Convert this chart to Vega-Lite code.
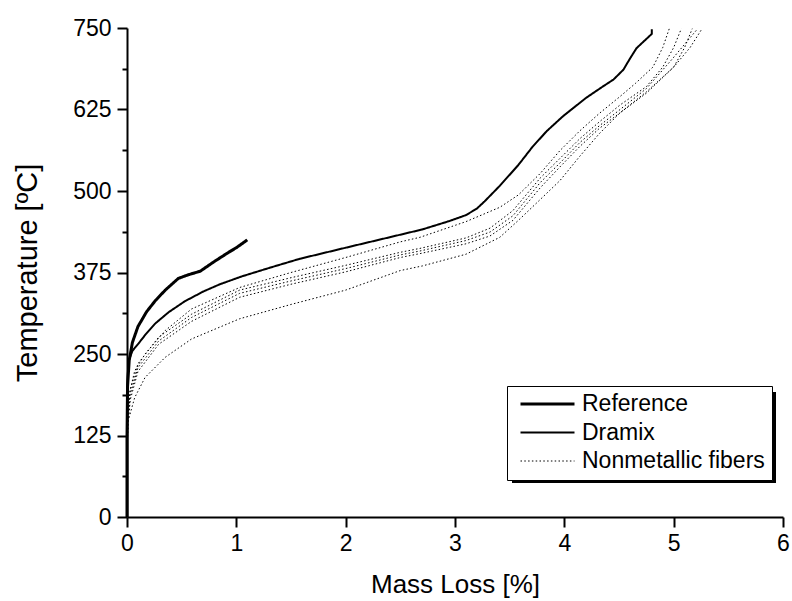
{
  "$schema": "https://vega.github.io/schema/vega-lite/v6.json",
  "width": 656,
  "height": 489,
  "autosize": {"type": "none"},
  "padding": {"left": 127, "top": 28, "right": 9, "bottom": 84},
  "background": "white",
  "config": {
    "view": {"stroke": null},
    "font": "Liberation Sans",
    "axis": {
      "domainColor": "black", "domainWidth": 2, "tickColor": "black", "tickWidth": 2,
      "labelColor": "black", "titleColor": "black", "labelFont": "Liberation Sans", "titleFont": "Liberation Sans",
      "labelFontSize": 23, "titleFontSize": 26, "titleFontWeight": "normal", "grid": false, "labelPadding": 5,
      "labelFlush": false, "labelOverlap": false
    },
    "legend": {
      "orient": "none", "legendX": 380, "legendY": 358, "strokeColor": "black", "fillColor": "white",
      "padding": 7, "labelFontSize": 23, "labelFont": "Liberation Sans", "labelColor": "black", "labelOffset": 6,
      "labelLimit": 400,
      "symbolType": "stroke", "symbolSize": 2916, "symbolStrokeColor": "black", "symbolOffset": 5,
      "clipHeight": 22, "rowPadding": 5.5
    }
  },
  "data": {"values": [
    {"s":"R","g":"Reference","x":0,"t":0},{"s":"R","g":"Reference","x":0,"t":120},{"s":"R","g":"Reference","x":0.005,"t":200},{"s":"R","g":"Reference","x":0.02,"t":240},{"s":"R","g":"Reference","x":0.05,"t":268},{"s":"R","g":"Reference","x":0.1,"t":292},{"s":"R","g":"Reference","x":0.18,"t":315},{"s":"R","g":"Reference","x":0.26,"t":332},{"s":"R","g":"Reference","x":0.35,"t":348},{"s":"R","g":"Reference","x":0.47,"t":366},{"s":"R","g":"Reference","x":0.57,"t":372},{"s":"R","g":"Reference","x":0.67,"t":377},{"s":"R","g":"Reference","x":0.8,"t":392},{"s":"R","g":"Reference","x":0.93,"t":406},{"s":"R","g":"Reference","x":1.0,"t":413},{"s":"R","g":"Reference","x":1.1,"t":425},
    {"s":"D","g":"Dramix","x":0,"t":0},{"s":"D","g":"Dramix","x":0,"t":120},{"s":"D","g":"Dramix","x":0.003,"t":200},{"s":"D","g":"Dramix","x":0.012,"t":238},{"s":"D","g":"Dramix","x":0.05,"t":255},{"s":"D","g":"Dramix","x":0.1,"t":265},{"s":"D","g":"Dramix","x":0.17,"t":280},{"s":"D","g":"Dramix","x":0.26,"t":297},{"s":"D","g":"Dramix","x":0.38,"t":314},{"s":"D","g":"Dramix","x":0.53,"t":331},{"s":"D","g":"Dramix","x":0.7,"t":346},{"s":"D","g":"Dramix","x":0.85,"t":357},{"s":"D","g":"Dramix","x":1.05,"t":369},{"s":"D","g":"Dramix","x":1.3,"t":382},{"s":"D","g":"Dramix","x":1.58,"t":396},{"s":"D","g":"Dramix","x":2.0,"t":413},{"s":"D","g":"Dramix","x":2.5,"t":433},{"s":"D","g":"Dramix","x":2.7,"t":441},{"s":"D","g":"Dramix","x":2.95,"t":454},{"s":"D","g":"Dramix","x":3.1,"t":463},{"s":"D","g":"Dramix","x":3.2,"t":473},{"s":"D","g":"Dramix","x":3.27,"t":484},{"s":"D","g":"Dramix","x":3.41,"t":508},{"s":"D","g":"Dramix","x":3.58,"t":540},{"s":"D","g":"Dramix","x":3.71,"t":568},{"s":"D","g":"Dramix","x":3.84,"t":592},{"s":"D","g":"Dramix","x":3.99,"t":615},{"s":"D","g":"Dramix","x":4.2,"t":643},{"s":"D","g":"Dramix","x":4.35,"t":660},{"s":"D","g":"Dramix","x":4.45,"t":671},{"s":"D","g":"Dramix","x":4.54,"t":686},{"s":"D","g":"Dramix","x":4.6,"t":703},{"s":"D","g":"Dramix","x":4.66,"t":719},{"s":"D","g":"Dramix","x":4.8,"t":741},{"s":"D","g":"Dramix","x":4.8,"t":748},
    {"s":"N1","g":"Nonmetallic fibers","x":0,"t":110},{"s":"N1","g":"Nonmetallic fibers","x":0.005,"t":160},{"s":"N1","g":"Nonmetallic fibers","x":0.027,"t":193},{"s":"N1","g":"Nonmetallic fibers","x":0.07,"t":224},{"s":"N1","g":"Nonmetallic fibers","x":0.165,"t":250},{"s":"N1","g":"Nonmetallic fibers","x":0.35,"t":286},{"s":"N1","g":"Nonmetallic fibers","x":0.59,"t":319},{"s":"N1","g":"Nonmetallic fibers","x":1.03,"t":352},{"s":"N1","g":"Nonmetallic fibers","x":1.5,"t":375},{"s":"N1","g":"Nonmetallic fibers","x":2.0,"t":398},{"s":"N1","g":"Nonmetallic fibers","x":2.5,"t":422},{"s":"N1","g":"Nonmetallic fibers","x":2.68,"t":429},{"s":"N1","g":"Nonmetallic fibers","x":3.1,"t":453},{"s":"N1","g":"Nonmetallic fibers","x":3.41,"t":475},{"s":"N1","g":"Nonmetallic fibers","x":3.58,"t":494},{"s":"N1","g":"Nonmetallic fibers","x":3.78,"t":527},{"s":"N1","g":"Nonmetallic fibers","x":3.96,"t":562},{"s":"N1","g":"Nonmetallic fibers","x":4.14,"t":592},{"s":"N1","g":"Nonmetallic fibers","x":4.32,"t":619},{"s":"N1","g":"Nonmetallic fibers","x":4.51,"t":645},{"s":"N1","g":"Nonmetallic fibers","x":4.65,"t":665},{"s":"N1","g":"Nonmetallic fibers","x":4.81,"t":690},{"s":"N1","g":"Nonmetallic fibers","x":4.9,"t":720},{"s":"N1","g":"Nonmetallic fibers","x":4.96,"t":749},
    {"s":"N2","g":"Nonmetallic fibers","x":0,"t":110},{"s":"N2","g":"Nonmetallic fibers","x":0.01,"t":160},{"s":"N2","g":"Nonmetallic fibers","x":0.03,"t":195},{"s":"N2","g":"Nonmetallic fibers","x":0.1,"t":235},{"s":"N2","g":"Nonmetallic fibers","x":0.29,"t":276},{"s":"N2","g":"Nonmetallic fibers","x":0.59,"t":311},{"s":"N2","g":"Nonmetallic fibers","x":1.03,"t":348},{"s":"N2","g":"Nonmetallic fibers","x":1.5,"t":367},{"s":"N2","g":"Nonmetallic fibers","x":2.0,"t":386},{"s":"N2","g":"Nonmetallic fibers","x":2.5,"t":406},{"s":"N2","g":"Nonmetallic fibers","x":2.68,"t":412},{"s":"N2","g":"Nonmetallic fibers","x":3.1,"t":428},{"s":"N2","g":"Nonmetallic fibers","x":3.32,"t":443},{"s":"N2","g":"Nonmetallic fibers","x":3.53,"t":470},{"s":"N2","g":"Nonmetallic fibers","x":3.78,"t":520},{"s":"N2","g":"Nonmetallic fibers","x":3.96,"t":550},{"s":"N2","g":"Nonmetallic fibers","x":4.14,"t":580},{"s":"N2","g":"Nonmetallic fibers","x":4.32,"t":606},{"s":"N2","g":"Nonmetallic fibers","x":4.51,"t":632},{"s":"N2","g":"Nonmetallic fibers","x":4.75,"t":660},{"s":"N2","g":"Nonmetallic fibers","x":4.9,"t":690},{"s":"N2","g":"Nonmetallic fibers","x":5.0,"t":720},{"s":"N2","g":"Nonmetallic fibers","x":5.07,"t":749},
    {"s":"N3","g":"Nonmetallic fibers","x":0,"t":105},{"s":"N3","g":"Nonmetallic fibers","x":0.01,"t":150},{"s":"N3","g":"Nonmetallic fibers","x":0.03,"t":188},{"s":"N3","g":"Nonmetallic fibers","x":0.1,"t":229},{"s":"N3","g":"Nonmetallic fibers","x":0.29,"t":270},{"s":"N3","g":"Nonmetallic fibers","x":0.59,"t":306},{"s":"N3","g":"Nonmetallic fibers","x":1.03,"t":343},{"s":"N3","g":"Nonmetallic fibers","x":1.5,"t":362},{"s":"N3","g":"Nonmetallic fibers","x":2.0,"t":381},{"s":"N3","g":"Nonmetallic fibers","x":2.5,"t":402},{"s":"N3","g":"Nonmetallic fibers","x":2.68,"t":408},{"s":"N3","g":"Nonmetallic fibers","x":3.1,"t":424},{"s":"N3","g":"Nonmetallic fibers","x":3.32,"t":437},{"s":"N3","g":"Nonmetallic fibers","x":3.53,"t":462},{"s":"N3","g":"Nonmetallic fibers","x":3.78,"t":513},{"s":"N3","g":"Nonmetallic fibers","x":3.96,"t":543},{"s":"N3","g":"Nonmetallic fibers","x":4.14,"t":574},{"s":"N3","g":"Nonmetallic fibers","x":4.32,"t":600},{"s":"N3","g":"Nonmetallic fibers","x":4.51,"t":625},{"s":"N3","g":"Nonmetallic fibers","x":4.75,"t":657},{"s":"N3","g":"Nonmetallic fibers","x":4.99,"t":703},{"s":"N3","g":"Nonmetallic fibers","x":5.22,"t":749},
    {"s":"N4","g":"Nonmetallic fibers","x":0,"t":100},{"s":"N4","g":"Nonmetallic fibers","x":0.01,"t":145},{"s":"N4","g":"Nonmetallic fibers","x":0.03,"t":180},{"s":"N4","g":"Nonmetallic fibers","x":0.1,"t":223},{"s":"N4","g":"Nonmetallic fibers","x":0.29,"t":265},{"s":"N4","g":"Nonmetallic fibers","x":0.59,"t":300},{"s":"N4","g":"Nonmetallic fibers","x":1.03,"t":337},{"s":"N4","g":"Nonmetallic fibers","x":1.5,"t":357},{"s":"N4","g":"Nonmetallic fibers","x":2.0,"t":376},{"s":"N4","g":"Nonmetallic fibers","x":2.5,"t":398},{"s":"N4","g":"Nonmetallic fibers","x":2.68,"t":404},{"s":"N4","g":"Nonmetallic fibers","x":3.1,"t":419},{"s":"N4","g":"Nonmetallic fibers","x":3.32,"t":431},{"s":"N4","g":"Nonmetallic fibers","x":3.53,"t":455},{"s":"N4","g":"Nonmetallic fibers","x":3.78,"t":505},{"s":"N4","g":"Nonmetallic fibers","x":3.96,"t":537},{"s":"N4","g":"Nonmetallic fibers","x":4.14,"t":568},{"s":"N4","g":"Nonmetallic fibers","x":4.32,"t":596},{"s":"N4","g":"Nonmetallic fibers","x":4.51,"t":620},{"s":"N4","g":"Nonmetallic fibers","x":4.75,"t":652},{"s":"N4","g":"Nonmetallic fibers","x":5.0,"t":690},{"s":"N4","g":"Nonmetallic fibers","x":5.1,"t":720},{"s":"N4","g":"Nonmetallic fibers","x":5.17,"t":749},
    {"s":"N5","g":"Nonmetallic fibers","x":0,"t":100},{"s":"N5","g":"Nonmetallic fibers","x":0.003,"t":143},{"s":"N5","g":"Nonmetallic fibers","x":0.07,"t":183},{"s":"N5","g":"Nonmetallic fibers","x":0.165,"t":214},{"s":"N5","g":"Nonmetallic fibers","x":0.35,"t":245},{"s":"N5","g":"Nonmetallic fibers","x":0.59,"t":273},{"s":"N5","g":"Nonmetallic fibers","x":1.03,"t":304},{"s":"N5","g":"Nonmetallic fibers","x":1.5,"t":326},{"s":"N5","g":"Nonmetallic fibers","x":2.0,"t":348},{"s":"N5","g":"Nonmetallic fibers","x":2.5,"t":378},{"s":"N5","g":"Nonmetallic fibers","x":2.7,"t":385},{"s":"N5","g":"Nonmetallic fibers","x":3.1,"t":403},{"s":"N5","g":"Nonmetallic fibers","x":3.41,"t":429},{"s":"N5","g":"Nonmetallic fibers","x":3.58,"t":455},{"s":"N5","g":"Nonmetallic fibers","x":3.78,"t":487},{"s":"N5","g":"Nonmetallic fibers","x":3.96,"t":516},{"s":"N5","g":"Nonmetallic fibers","x":4.14,"t":553},{"s":"N5","g":"Nonmetallic fibers","x":4.32,"t":588},{"s":"N5","g":"Nonmetallic fibers","x":4.51,"t":620},{"s":"N5","g":"Nonmetallic fibers","x":4.75,"t":650},{"s":"N5","g":"Nonmetallic fibers","x":5.0,"t":690},{"s":"N5","g":"Nonmetallic fibers","x":5.15,"t":720},{"s":"N5","g":"Nonmetallic fibers","x":5.26,"t":749}
  ]},
  "layer": [
    {
      "mark": {"type": "line", "color": "black"},
      "encoding": {
        "x": {"field": "x", "type": "quantitative", "scale": {"domain": [0, 6], "nice": false, "zero": false},
          "axis": {"title": "Mass Loss [%]", "values": [0,0.5,1,1.5,2,2.5,3,3.5,4,4.5,5,5.5,6],
            "format": "d",
            "labelExpr": "datum.value % 1 === 0 ? datum.label : ''",
            "tickSize": {"condition": {"test": "datum.value % 1 === 0", "value": 10}, "value": 5},
            "titlePadding": 16}},
        "y": {"field": "t", "type": "quantitative", "scale": {"domain": [0, 750], "nice": false},
          "axis": {"title": "Temperature [ºC]", "values": [0,62.5,125,187.5,250,312.5,375,437.5,500,562.5,625,687.5,750],
            "format": "d",
            "labelExpr": "datum.value % 125 === 0 ? datum.label : ''",
            "tickSize": {"condition": {"test": "datum.value % 125 === 0", "value": 10}, "value": 5},
            "labelPadding": 6, "titlePadding": 30, "titleFontSize": 29}},
        "detail": {"field": "s"},
        "order": {"field": "t", "type": "quantitative"},
        "strokeDash": {"field": "g", "type": "nominal",
          "scale": {"domain": ["Reference", "Dramix", "Nonmetallic fibers"], "range": [[1, 0], [1, 0], [1.5, 2.3]]},
          "legend": {"title": null}},
        "strokeWidth": {"field": "g", "type": "nominal",
          "scale": {"domain": ["Reference", "Dramix", "Nonmetallic fibers"], "range": [3, 1, 1.3]},
          "legend": {"title": null}}
      }
    },
    {
      "mark": {"type": "rect", "color": "black"},
      "encoding": {
        "x": {"datum": 3.53, "type": "quantitative"},
        "x2": {"datum": 5.927},
        "y": {"datum": 52, "type": "quantitative"},
        "y2": {"datum": 191.7}
      }
    }
  ]
}
